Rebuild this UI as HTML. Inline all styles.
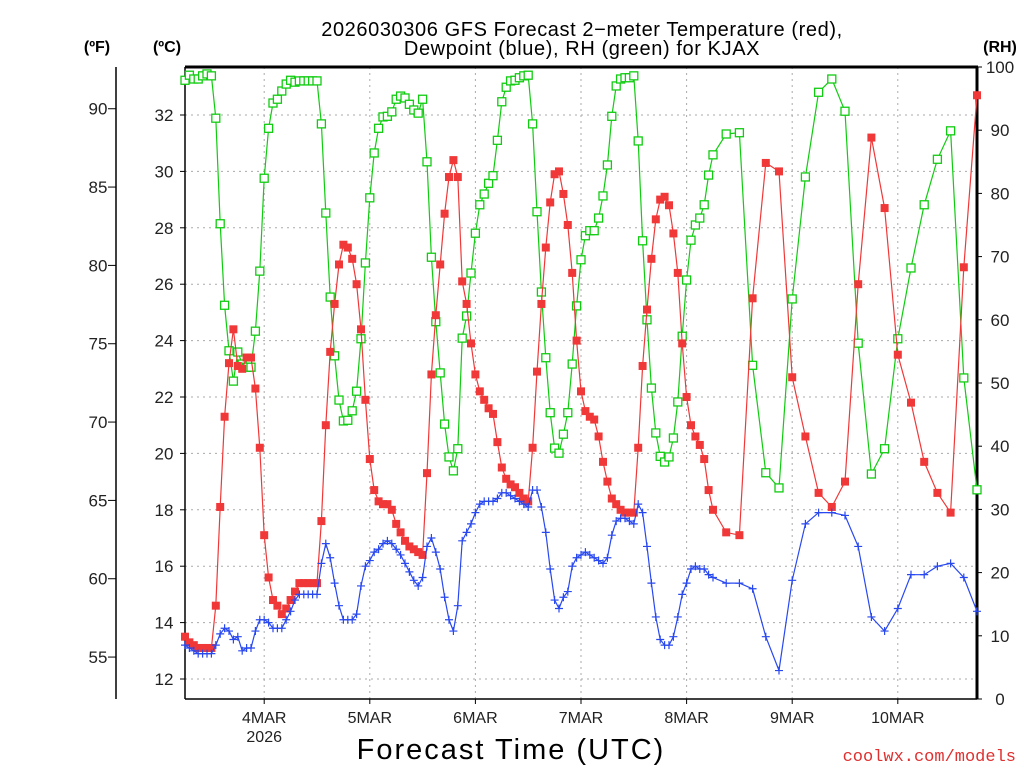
<!DOCTYPE html>
<html><head><meta charset="utf-8"><style>
html,body{margin:0;padding:0;background:#fff;}
svg{display:block;font-family:"Liberation Sans",sans-serif;}
</style></head><body>
<svg id="chart" width="1024" height="768" viewBox="0 0 1024 768" xmlns="http://www.w3.org/2000/svg">
<text x="582" y="36" font-size="20" letter-spacing="0.6" text-anchor="middle">2026030306 GFS Forecast 2−meter Temperature (red),</text>
<text x="582" y="55" font-size="20" letter-spacing="0.6" text-anchor="middle">Dewpoint (blue), RH (green) for KJAX</text>
<text x="97" y="52" font-size="16" font-weight="bold" text-anchor="middle">(ºF)</text>
<text x="167" y="52" font-size="16" font-weight="bold" text-anchor="middle">(ºC)</text>
<text x="1000" y="52" font-size="16" font-weight="bold" text-anchor="middle">(RH)</text>
<text x="511" y="759" font-size="29" text-anchor="middle" letter-spacing="2">Forecast Time (UTC)</text>
<text x="1016" y="761" font-size="17" fill="#e03030" text-anchor="end" font-family="Liberation Mono, monospace">coolwx.com/models</text>
<g id="grid"></g><g id="axes"></g><g id="series"></g>
</svg>
<script>
// hours since 2026-03-03 06Z
const hours = [];
for (let h = 0; h <= 120; h++) hours.push(h);
for (let h = 123; h <= 180; h += 3) hours.push(h);
const tempC = [13.5,13.3,13.2,13.1,13.1,13.1,13.1,14.6,18.1,21.3,23.2,24.4,23.1,23.0,23.4,23.4,22.3,20.2,17.1,15.6,14.8,14.6,14.3,14.5,14.8,15.1,15.4,15.4,15.4,15.4,15.4,17.6,21.0,23.6,25.3,26.7,27.4,27.3,26.9,26.0,24.4,21.9,19.8,18.7,18.3,18.2,18.2,18.0,17.5,17.2,16.9,16.7,16.6,16.5,16.4,19.3,22.8,24.9,26.7,28.5,29.8,30.4,29.8,26.1,25.3,23.9,22.8,22.2,21.9,21.6,21.4,20.4,19.5,19.1,18.9,18.8,18.6,18.4,18.3,20.2,22.9,25.3,27.3,28.9,29.9,30.0,29.2,28.1,26.4,24.0,22.2,21.5,21.3,21.2,20.6,19.7,19.0,18.4,18.2,18.0,17.9,17.9,17.9,20.2,23.1,25.1,26.9,28.3,29.0,29.1,28.8,27.8,26.4,23.9,22.0,21.0,20.6,20.3,19.8,18.7,18.0,17.2,17.1,25.5,30.3,30.0,22.7,20.6,18.6,18.1,19.0,26.0,31.2,28.7,23.5,21.8,19.7,18.6,17.9,26.6,32.7];
const dewC = [13.2,13.1,13.0,12.9,12.9,12.9,12.9,13.2,13.6,13.8,13.7,13.4,13.5,13.0,13.1,13.1,13.7,14.1,14.1,14.0,13.8,13.8,13.8,14.1,14.4,14.8,15.0,15.0,15.0,15.0,15.0,16.1,16.8,16.3,15.4,14.6,14.1,14.1,14.1,14.3,15.3,16.0,16.2,16.5,16.6,16.8,16.9,16.8,16.6,16.4,16.1,15.8,15.5,15.3,15.6,16.7,17.0,16.5,15.9,14.9,14.1,13.7,14.6,16.9,17.2,17.5,17.9,18.2,18.3,18.3,18.3,18.4,18.6,18.6,18.5,18.4,18.3,18.2,18.1,18.7,18.7,18.1,17.2,15.9,14.8,14.5,14.9,15.1,16.0,16.3,16.4,16.5,16.4,16.3,16.2,16.1,16.3,17.1,17.6,17.7,17.7,17.6,17.5,18.2,17.9,16.7,15.4,14.2,13.4,13.2,13.2,13.5,14.2,15.0,15.4,15.9,16.0,15.9,15.9,15.7,15.6,15.4,15.4,15.2,13.5,12.3,15.5,17.5,17.9,17.9,17.8,16.7,14.2,13.7,14.5,15.7,15.7,16.0,16.1,15.6,14.4];
const rhPct = [97.9,98.7,98.1,98.1,98.6,98.9,98.6,91.9,75.2,62.3,55.1,50.3,54.9,53.0,52.5,52.5,58.2,67.7,82.4,90.3,94.3,94.9,96.2,97.3,97.9,97.6,97.8,97.8,97.8,97.8,97.8,91.0,76.9,63.6,54.3,47.3,44.0,44.1,45.6,48.7,57.0,69.0,79.3,86.4,90.3,92.1,92.2,92.9,94.9,95.4,95.1,94.1,93.2,92.7,94.9,85.0,69.9,59.7,51.6,43.5,38.3,36.1,39.6,57.1,60.6,67.4,73.7,78.2,79.9,81.6,82.8,88.4,94.5,96.8,97.8,97.9,98.3,98.6,98.7,91.0,77.1,64.4,54.0,45.3,39.7,38.9,41.9,45.3,53.0,62.2,69.5,73.3,74.1,74.1,76.1,79.6,84.5,92.2,97.0,98.1,98.3,98.3,98.6,88.3,72.5,60.0,49.2,42.1,38.4,37.5,38.3,41.3,47.0,57.4,66.3,72.6,75.0,76.1,78.2,82.9,86.1,89.4,89.6,52.8,35.8,33.4,63.3,82.6,96.0,98.1,93.0,56.3,35.6,39.6,57.0,68.2,78.2,85.4,89.9,50.8,33.1];
const celsiusTicks = [12,14,16,18,20,22,24,26,28,30,32];
const fahrenheitTicks = [55,60,65,70,75,80,85,90];
const rhTicks = [0,10,20,30,40,50,60,70,80,90,100];
const dayLabels = ["4MAR","5MAR","6MAR","7MAR","8MAR","9MAR","10MAR"];
const dayHours = [18,42,66,90,114,138,162];

const NS = "http://www.w3.org/2000/svg";
const L = 185, R = 977, T = 67, B = 699;
const xH = h => L + h * (R - L) / 180;
const yC = c => 679 - (c - 12) * 28.2;
const yF = f => yC((f - 32) * 5 / 9);
const yRH = r => B - r * (B - T) / 100;
function mk(tag, attrs, parent, text) {
  const e = document.createElementNS(NS, tag);
  for (const k in attrs) e.setAttribute(k, attrs[k]);
  if (text !== undefined) e.textContent = text;
  parent.appendChild(e);
  return e;
}
const grid = document.getElementById('grid'), axes = document.getElementById('axes'), ser = document.getElementById('series');

celsiusTicks.forEach(c => {
  const y = yC(c);
  const g = mk('line', {x1: L, x2: R, y1: y, y2: y, stroke: '#aaa', 'stroke-dasharray': '2,4', 'stroke-width': 1}, grid);
  
  
  const t = mk('line', {x1: L - 5, x2: L, y1: y, y2: y, stroke: '#000'}, axes);
  
  
  const lb = mk('text', {x: 164, y: y + 6, 'font-size': 17, 'text-anchor': 'middle', fill: '#222'}, axes, String(c));
  
  
});
dayHours.forEach((h, i) => {
  const x = xH(h);
  const g = mk('line', {x1: x, x2: x, y1: T, y2: B, stroke: '#aaa', 'stroke-dasharray': '2,4', 'stroke-width': 1}, grid);
  
  
  const t = mk('line', {x1: x, x2: x, y1: B, y2: B + 5, stroke: '#000'}, axes);
  
  
  const lb = mk('text', {x: x, y: 723, 'font-size': 16, 'text-anchor': 'middle', fill: '#222'}, axes, dayLabels[i]);
  
  
});
const yr = mk('text', {x: xH(dayHours[0]), y: 742, 'font-size': 16, 'text-anchor': 'middle', fill: '#222'}, axes, '2026');



fahrenheitTicks.forEach(f => {
  const y = yF(f);
  const t = mk('line', {x1: 108, x2: 116, y1: y, y2: y, stroke: '#000'}, axes);
  
  
  const lb = mk('text', {x: 98, y: y + 6, 'font-size': 17, 'text-anchor': 'middle', fill: '#222'}, axes, String(f));
  
  
});
const fAxis = mk('line', {x1: 116, x2: 116, y1: T, y2: B, stroke: '#000', 'stroke-width': 1.5}, axes);



rhTicks.forEach(r => {
  const y = yRH(r);
  const t = mk('line', {x1: R, x2: R + 5, y1: y, y2: y, stroke: '#000'}, axes);
  
  
  const lb = mk('text', {x: 1000, y: y + 6, 'font-size': 17, 'text-anchor': 'middle', fill: '#222'}, axes, String(r));
  
  
});
const lft = mk('line', {x1: L, x2: L, y1: T, y2: B, stroke: '#000', 'stroke-width': 1.5}, axes);


const btm = mk('line', {x1: L, x2: R, y1: B, y2: B, stroke: '#000', 'stroke-width': 1.5}, axes);


const tp = mk('line', {x1: L, x2: R + 1, y1: T, y2: T, stroke: '#000', 'stroke-width': 3}, axes);


const rt = mk('line', {x1: R, x2: R, y1: T, y2: B, stroke: '#000', 'stroke-width': 3}, axes);



function drawSeries(vals, yfn, color, kind, name) {
  const pts = hours.map((h, i) => [xH(h), yfn(vals[i])]);
  const pl = mk('polyline', {points: pts.map(p => p[0].toFixed(1) + ',' + p[1].toFixed(1)).join(' '), fill: 'none', stroke: color, 'stroke-width': 1.2}, ser);
  
  
  pts.forEach(p => {
    let m;
    if (kind === 'filled') {
      m = mk('rect', {x: p[0] - 4, y: p[1] - 4, width: 8, height: 8, fill: color}, ser);
    } else if (kind === 'open') {
      m = mk('rect', {x: p[0] - 4, y: p[1] - 4, width: 8, height: 8, fill: '#fff', stroke: color, 'stroke-width': 1.3}, ser);
    } else {
      m = mk('path', {d: `M${p[0]-4},${p[1]}h8M${p[0]},${p[1]-4}v8`, stroke: color, 'stroke-width': 1.2}, ser);
    }
    
    
  });
}
drawSeries(rhPct, yRH, '#10cc10', 'open', 'rh');
drawSeries(tempC, yC, '#f03838', 'filled', 'temperature');
drawSeries(dewC, yC, '#2848f0', 'plus', 'dewpoint');
</script>
</body></html>
